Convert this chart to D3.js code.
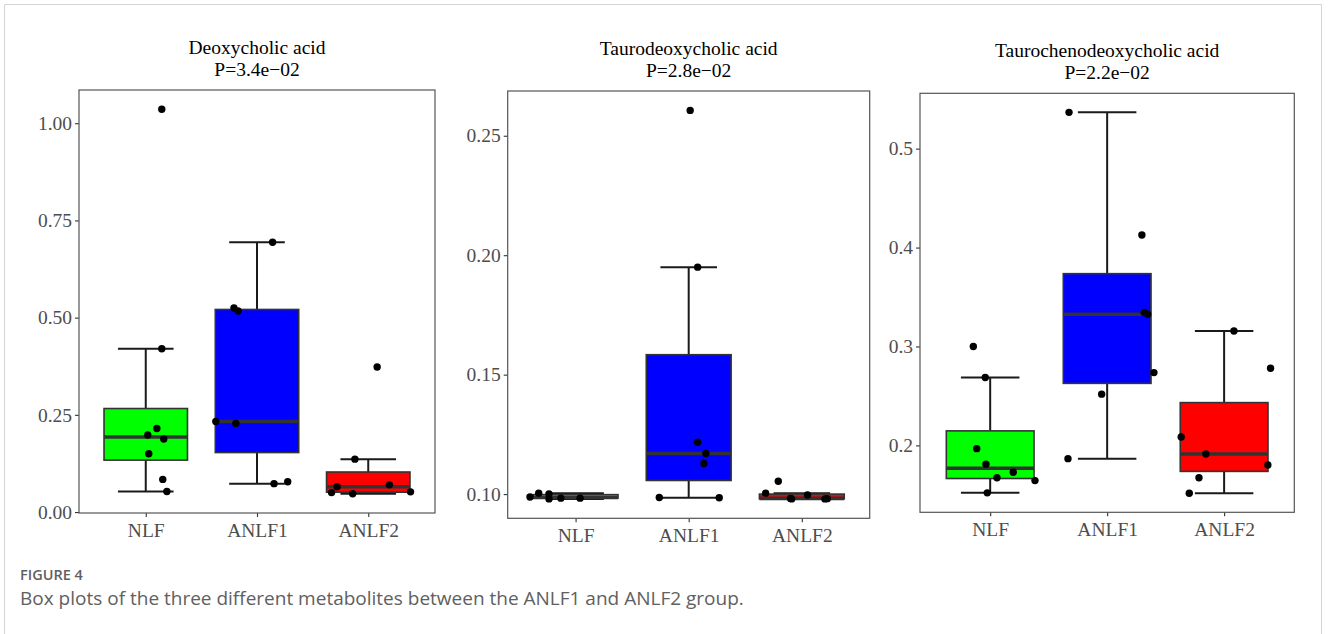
<!DOCTYPE html>
<html>
<head>
<meta charset="utf-8">
<script src="https://cdn.jsdelivr.net/npm/d3@7"></script>
<style>
  html, body { margin: 0; padding: 0; background: #fff; }
  svg { display: block; }
</style>
</head>
<body>
<svg id="fig" width="1328" height="634"></svg>
<script>
// Groups shown on every panel
const groups = ["NLF", "ANLF1", "ANLF2"];

// Panel titles and Kruskal-Wallis p-values
const titles = ["Deoxycholic acid", "Taurodeoxycholic acid", "Taurochenodeoxycholic acid"];
const pLabels = ["P=3.4e\u221202", "P=2.8e\u221202", "P=2.2e\u221202"];

// Y tick values per panel
const ticksDCA = [0, 0.25, 0.5, 0.75, 1.0];
const ticksTDCA = [0.10, 0.15, 0.20, 0.25];
const ticksTCDCA = [0.2, 0.3, 0.4, 0.5];

// Deoxycholic acid: sample values per group, with horizontal jitter (fraction of group spacing)
const dcaNLF = [1.036, 0.420, 0.215, 0.198, 0.188, 0.150, 0.084, 0.053];
const dcaNLFJitter = [0.144, 0.144, 0.10, 0.018, 0.162, 0.027, 0.153, 0.19];
const dcaANLF1 = [0.694, 0.525, 0.517, 0.233, 0.228, 0.073, 0.078];
const dcaANLF1Jitter = [0.14, -0.207, -0.17, -0.37, -0.19, 0.153, 0.276];
const dcaANLF2 = [0.373, 0.136, 0.070, 0.065, 0.050, 0.047, 0.052];
const dcaANLF2Jitter = [0.08, -0.12, 0.19, -0.28, -0.33, -0.14, 0.38];

// Taurodeoxycholic acid
const tdcaNLF = [0.0988, 0.1004, 0.1001, 0.0980, 0.0983, 0.0983];
const tdcaNLFJitter = [-0.403, -0.326, -0.235, -0.235, -0.13, 0.04];
const tdcaANLF1 = [0.2606, 0.1950, 0.1217, 0.1170, 0.1128, 0.0986, 0.0985];
const tdcaANLF1Jitter = [0.013, 0.079, 0.079, 0.152, 0.134, -0.26, 0.27];
const tdcaANLF2 = [0.1054, 0.1004, 0.0980, 0.0980, 0.0981, 0.0996, 0.0982];
const tdcaANLF2Jitter = [-0.208, -0.32, -0.09, 0.204, 0.225, 0.05, -0.1];

// Taurochenodeoxycholic acid
const tcdcaNLF = [0.300, 0.2686, 0.1967, 0.181, 0.1672, 0.1728, 0.1644, 0.152];
const tcdcaNLFJitter = [-0.144, -0.042, -0.115, -0.036, 0.058, 0.197, 0.383, -0.025];
const tcdcaANLF1 = [0.5367, 0.4127, 0.3345, 0.3325, 0.2736, 0.2518, 0.1866];
const tcdcaANLF1Jitter = [-0.326, 0.297, 0.317, 0.346, 0.40, -0.047, -0.335];
const tcdcaANLF2 = [0.3156, 0.278, 0.2085, 0.1913, 0.1802, 0.1672, 0.1516];
const tcdcaANLF2Jitter = [0.084, 0.397, -0.367, -0.156, 0.374, -0.215, -0.298];

const groupFill = { NLF: "#00ff00", ANLF1: "#0000ff", ANLF2: "#ff0000" };

const panels = [
  { title: titles[0], p: pLabels[0], ticks: ticksDCA, fmt: d3.format(".2f"),
    box: { x0: 79, x1: 435, y0: 90, y1: 513 },
    values: [dcaNLF, dcaANLF1, dcaANLF2], jitter: [dcaNLFJitter, dcaANLF1Jitter, dcaANLF2Jitter] },
  { title: titles[1], p: pLabels[1], ticks: ticksTDCA, fmt: d3.format(".2f"),
    box: { x0: 507.7, x1: 869.7, y0: 91, y1: 518.3 },
    values: [tdcaNLF, tdcaANLF1, tdcaANLF2], jitter: [tdcaNLFJitter, tdcaANLF1Jitter, tdcaANLF2Jitter] },
  { title: titles[2], p: pLabels[2], ticks: ticksTCDCA, fmt: d3.format(".1f"),
    box: { x0: 920, x1: 1294.3, y0: 93.3, y1: 512.3 },
    values: [tcdcaNLF, tcdcaANLF1, tcdcaANLF2], jitter: [tcdcaNLFJitter, tcdcaANLF1Jitter, tcdcaANLF2Jitter] }
];

const svg = d3.select("#fig");
const serif = "'Liberation Serif', 'Times New Roman', serif";
const sans = "'Open Sans', 'Noto Sans', sans-serif";

// outer figure frame (open at the bottom)
svg.append("path")
  .attr("d", "M4.5,640V4.5H1321.5V640")
  .attr("fill", "none").attr("stroke", "#d4d4d4").attr("stroke-width", 1);

// Tukey box statistics (R type-7 quantiles)
function boxStats(vals) {
  const s = vals.slice().sort(d3.ascending);
  const q1 = d3.quantile(s, 0.25), med = d3.quantile(s, 0.5), q3 = d3.quantile(s, 0.75);
  const iqr = q3 - q1;
  const lo = d3.min(s.filter(v => v >= q1 - 1.5 * iqr));
  const hi = d3.max(s.filter(v => v <= q3 + 1.5 * iqr));
  return { q1, med, q3, lo, hi };
}

panels.forEach(pn => {
  const b = pn.box;
  const all = pn.values.flat();
  const [mn, mx] = d3.extent(all);
  const pad = (mx - mn) * 0.05;
  const y = d3.scaleLinear().domain([mn - pad, mx + pad]).range([b.y1, b.y0]);
  const x = d3.scalePoint().domain(groups).range([b.x0, b.x1]).padding(0.6);
  const step = x.step();
  const g = svg.append("g");

  // titles
  const cx = (b.x0 + b.x1) / 2;
  g.append("text").attr("x", cx).attr("y", b.y0 - 36).attr("text-anchor", "middle")
    .attr("font-family", serif).attr("font-size", 19.5).attr("fill", "#000").text(pn.title);
  g.append("text").attr("x", cx).attr("y", b.y0 - 14).attr("text-anchor", "middle")
    .attr("font-family", serif).attr("font-size", 19.5).attr("fill", "#000").text(pn.p);

  // y axis
  const yAxis = g.append("g").attr("transform", `translate(${b.x0},0)`)
    .call(d3.axisLeft(y).tickValues(pn.ticks).tickFormat(pn.fmt).tickSize(4).tickPadding(3));
  yAxis.select(".domain").remove();
  yAxis.selectAll("line").attr("stroke", "#333").attr("stroke-width", 1.1);
  yAxis.selectAll("text").attr("font-family", serif).attr("font-size", 19.5).attr("fill", "#4d4d4d");

  // x axis
  const xAxis = g.append("g").attr("transform", `translate(0,${b.y1})`)
    .call(d3.axisBottom(x).tickSize(4).tickPadding(6));
  xAxis.select(".domain").remove();
  xAxis.selectAll("line").attr("stroke", "#333").attr("stroke-width", 1.1);
  xAxis.selectAll("text").attr("font-family", serif).attr("font-size", 19.5).attr("fill", "#4d4d4d")
    .attr("dy", "0.71em");

  groups.forEach((grp, i) => {
    const st = boxStats(pn.values[i]);
    const xc = x(grp);
    const bw = step * 0.75, cw = step * 0.5;
    const gg = g.append("g");
    // whiskers with caps
    gg.append("line").attr("x1", xc).attr("x2", xc).attr("y1", y(st.lo)).attr("y2", y(st.hi))
      .attr("stroke", "#1a1a1a").attr("stroke-width", 2);
    [st.lo, st.hi].forEach(v => {
      gg.append("line").attr("x1", xc - cw / 2).attr("x2", xc + cw / 2).attr("y1", y(v)).attr("y2", y(v))
        .attr("stroke", "#1a1a1a").attr("stroke-width", 2);
    });
    // box
    gg.append("rect").attr("x", xc - bw / 2).attr("width", bw)
      .attr("y", y(st.q3)).attr("height", Math.max(0, y(st.q1) - y(st.q3)))
      .attr("fill", groupFill[grp]).attr("stroke", "#333").attr("stroke-width", 1.6);
    // median
    gg.append("line").attr("x1", xc - bw / 2).attr("x2", xc + bw / 2)
      .attr("y1", y(st.med)).attr("y2", y(st.med)).attr("stroke", "#333").attr("stroke-width", 3.6);
  });

  // jittered sample points
  groups.forEach((grp, i) => {
    g.append("g").selectAll("circle").data(pn.values[i]).join("circle")
      .attr("cx", (d, k) => x(grp) + pn.jitter[i][k] * step)
      .attr("cy", d => y(d))
      .attr("r", 3.7).attr("fill", "#000");
  });

  // panel border
  g.append("rect").attr("x", b.x0).attr("y", b.y0).attr("width", b.x1 - b.x0).attr("height", b.y1 - b.y0)
    .attr("fill", "none").attr("stroke", "#555").attr("stroke-width", 1.2);
});

// caption
svg.append("text").attr("x", 20).attr("y", 580).attr("font-family", sans).attr("font-weight", 600)
  .attr("font-size", 14.5).attr("fill", "#606060").text("FIGURE 4");
svg.append("text").attr("x", 20).attr("y", 605).attr("font-family", sans)
  .attr("font-size", 19).attr("fill", "#606060")
  .text("Box plots of the three different metabolites between the ANLF1 and ANLF2 group.");
</script>
</body>
</html>
